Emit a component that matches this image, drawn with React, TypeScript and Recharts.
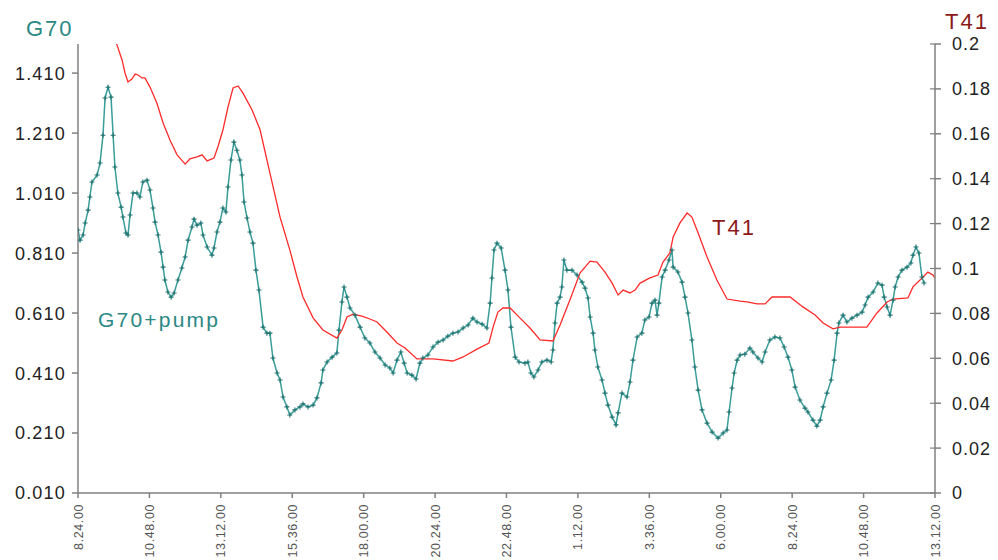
import React from "react";
import { LineChart, Line, XAxis, YAxis } from "recharts";

// hours after 8:24 on the first day
const xTickHours = [0, 2.4, 4.8, 7.2, 9.6, 12, 14.4, 16.8, 19.2, 21.6, 24, 26.4, 28.8];
const xTickLabels = [
  "8.24.00", "10.48.00", "13.12.00", "15.36.00", "18.00.00", "20.24.00", "22.48.00",
  "1.12.00", "3.36.00", "6.00.00", "8.24.00", "10.48.00", "13.12.00",
];
const leftTicks = [0.01, 0.21, 0.41, 0.61, 0.81, 1.01, 1.21, 1.41];
const leftTickLabels = ["0.010", "0.210", "0.410", "0.610", "0.810", "1.010", "1.210", "1.410"];
const rightTicks = [0, 0.02, 0.04, 0.06, 0.08, 0.1, 0.12, 0.14, 0.16, 0.18, 0.2];
const rightTickLabels = ["0", "0.02", "0.04", "0.06", "0.08", "0.1", "0.12", "0.14", "0.16", "0.18", "0.2"];

const g70Hours = [
  0.0, 0.07, 0.17, 0.24, 0.34, 0.4, 0.47, 0.64, 0.74, 0.84, 0.91, 1.01, 1.11, 1.18, 1.24, 1.34,
  1.45, 1.51, 1.61, 1.68, 1.75, 1.85, 1.98, 2.08, 2.18, 2.32, 2.42, 2.52, 2.59, 2.69, 2.79, 2.86,
  2.92, 3.02, 3.13, 3.23, 3.36, 3.49, 3.6, 3.7, 3.83, 3.9, 4.0, 4.13, 4.2, 4.34, 4.5, 4.57,
  4.67, 4.77, 4.87, 4.97, 5.04, 5.14, 5.24, 5.34, 5.44, 5.51, 5.58, 5.68, 5.78, 5.88, 5.98, 6.08,
  6.22, 6.35, 6.45, 6.55, 6.69, 6.79, 6.89, 7.02, 7.12, 7.29, 7.46, 7.56, 7.73, 7.9, 8.03, 8.17,
  8.23, 8.37, 8.54, 8.7, 8.77, 8.87, 8.94, 9.04, 9.14, 9.31, 9.48, 9.64, 9.81, 9.98, 10.15, 10.32,
  10.48, 10.59, 10.72, 10.85, 10.96, 11.06, 11.22, 11.36, 11.49, 11.59, 11.76, 11.93, 12.1, 12.27, 12.43, 12.6,
  12.77, 12.94, 13.11, 13.27, 13.41, 13.58, 13.74, 13.85, 13.91, 13.98, 14.08, 14.22, 14.35, 14.45, 14.55, 14.69,
  14.82, 15.02, 15.12, 15.22, 15.32, 15.46, 15.59, 15.76, 15.9, 15.96, 16.03, 16.1, 16.2, 16.26, 16.33, 16.43,
  16.6, 16.77, 16.94, 17.04, 17.14, 17.21, 17.31, 17.37, 17.47, 17.61, 17.71, 17.81, 17.95, 18.08, 18.15, 18.28,
  18.45, 18.55, 18.65, 18.79, 18.95, 19.05, 19.19, 19.29, 19.39, 19.46, 19.52, 19.63, 19.73, 19.86, 19.96, 20.0,
  20.16, 20.3, 20.4, 20.5, 20.63, 20.73, 20.84, 20.97, 21.14, 21.31, 21.51, 21.68, 21.81, 21.88, 21.98, 22.05,
  22.15, 22.25, 22.41, 22.58, 22.68, 22.85, 22.99, 23.09, 23.25, 23.42, 23.59, 23.73, 23.86, 23.99, 24.1, 24.26,
  24.43, 24.53, 24.7, 24.83, 24.94, 25.04, 25.17, 25.31, 25.41, 25.51, 25.57, 25.71, 25.84, 26.01, 26.18, 26.35,
  26.45, 26.55, 26.72, 26.88, 27.02, 27.09, 27.19, 27.29, 27.39, 27.46, 27.56, 27.69, 27.86, 27.99, 28.06, 28.16,
  28.26, 28.36, 28.43,
];
const g70Values = [
  0.887, 0.853, 0.87, 0.91, 0.953, 0.997, 1.047, 1.07, 1.11, 1.203, 1.327, 1.363, 1.33, 1.203, 1.097, 1.01,
  0.963, 0.93, 0.877, 0.87, 0.937, 1.01, 1.01, 0.997, 1.047, 1.053, 1.02, 0.96, 0.913, 0.87, 0.813, 0.763,
  0.72, 0.68, 0.663, 0.677, 0.72, 0.76, 0.797, 0.853, 0.897, 0.923, 0.903, 0.91, 0.87, 0.83, 0.803, 0.827,
  0.88, 0.913, 0.96, 0.947, 1.03, 1.12, 1.18, 1.153, 1.12, 1.07, 0.98, 0.927, 0.88, 0.843, 0.753, 0.687,
  0.563, 0.543, 0.543, 0.46, 0.41, 0.387, 0.33, 0.297, 0.27, 0.287, 0.297, 0.307, 0.297, 0.303, 0.327, 0.377,
  0.42, 0.447, 0.463, 0.477, 0.553, 0.647, 0.697, 0.663, 0.627, 0.603, 0.563, 0.527, 0.51, 0.48, 0.46, 0.437,
  0.427, 0.41, 0.453, 0.48, 0.443, 0.41, 0.403, 0.39, 0.443, 0.46, 0.47, 0.497, 0.513, 0.52, 0.533, 0.543,
  0.547, 0.56, 0.57, 0.593, 0.58, 0.573, 0.56, 0.643, 0.727, 0.82, 0.843, 0.827, 0.753, 0.687, 0.563, 0.463,
  0.447, 0.443, 0.447, 0.41, 0.397, 0.42, 0.447, 0.453, 0.447, 0.487, 0.577, 0.643, 0.663, 0.697, 0.787, 0.753,
  0.753, 0.737, 0.713, 0.693, 0.66, 0.597, 0.543, 0.487, 0.43, 0.387, 0.343, 0.303, 0.263, 0.237, 0.277, 0.343,
  0.33, 0.38, 0.453, 0.53, 0.543, 0.587, 0.597, 0.643, 0.653, 0.603, 0.643, 0.73, 0.753, 0.787, 0.82, 0.763,
  0.747, 0.713, 0.663, 0.61, 0.52, 0.43, 0.353, 0.287, 0.243, 0.213, 0.193, 0.21, 0.22, 0.28, 0.36, 0.41,
  0.453, 0.47, 0.473, 0.493, 0.48, 0.46, 0.447, 0.48, 0.52, 0.53, 0.527, 0.497, 0.463, 0.42, 0.363, 0.32,
  0.293, 0.28, 0.253, 0.233, 0.253, 0.297, 0.343, 0.387, 0.453, 0.543, 0.577, 0.603, 0.58, 0.593, 0.603, 0.613,
  0.637, 0.663, 0.68, 0.71, 0.703, 0.663, 0.63, 0.603, 0.653, 0.697, 0.73, 0.753, 0.763, 0.777, 0.803, 0.83,
  0.81, 0.73, 0.71,
];

const t41Hours = [
  1.18, 1.31, 1.48, 1.58, 1.68, 1.81, 1.92, 2.02, 2.15, 2.25, 2.42, 2.65, 2.86, 3.09, 3.33, 3.6,
  3.76, 4.0, 4.17, 4.34, 4.57, 4.7, 4.87, 5.04, 5.21, 5.38, 5.54, 5.85, 6.12, 6.45, 6.79, 7.12,
  7.36, 7.56, 7.9, 8.23, 8.7, 8.87, 9.04, 9.24, 9.54, 9.81, 10.05, 10.38, 10.72, 10.99, 11.39, 11.93,
  12.6, 12.94, 13.41, 13.81, 13.95, 14.11, 14.28, 14.52, 14.85, 15.19, 15.53, 15.96, 16.2, 16.53, 16.87, 17.21,
  17.44, 17.71, 17.95, 18.15, 18.32, 18.55, 18.72, 18.89, 19.22, 19.49, 19.66, 19.89, 20.0, 20.23, 20.47, 20.63,
  20.84, 21.14, 21.47, 21.81, 22.25, 22.48, 22.82, 23.09, 23.32, 23.93, 24.36, 24.77, 25.04, 25.37, 25.61, 26.51,
  26.85, 27.19, 27.39, 27.89, 28.06, 28.4, 28.56, 28.73, 28.8,
];
const t41Values = [
  0.204, 0.1996, 0.1929, 0.1871, 0.1831, 0.1844, 0.1866, 0.1862, 0.1849, 0.1849, 0.1808, 0.1737, 0.1648, 0.1572, 0.1506, 0.1465,
  0.1488, 0.1497, 0.1506, 0.1479, 0.1492, 0.1541, 0.1617, 0.1719, 0.1804, 0.1813, 0.1782, 0.1706, 0.1617, 0.1425, 0.1229, 0.1082,
  0.0962, 0.0873, 0.078, 0.0726, 0.069, 0.0726, 0.0784, 0.0797, 0.0788, 0.0775, 0.0762, 0.0717, 0.0668, 0.0646, 0.0597, 0.0597,
  0.0588, 0.0606, 0.0641, 0.0668, 0.0739, 0.0806, 0.0824, 0.0824, 0.078, 0.0735, 0.0682, 0.0677, 0.0748, 0.086, 0.098, 0.1033,
  0.1029, 0.0984, 0.0935, 0.0882, 0.0904, 0.0891, 0.0904, 0.0935, 0.0958, 0.0971, 0.1029, 0.1069, 0.114, 0.1203, 0.1247, 0.1229,
  0.1158, 0.1051, 0.0949, 0.0864, 0.0855, 0.0851, 0.0842, 0.0842, 0.0873, 0.0873, 0.0829, 0.0793, 0.0757, 0.0731, 0.0739, 0.0739,
  0.0802, 0.0851, 0.0864, 0.0869, 0.0918, 0.0962, 0.0984, 0.0971, 0.0958,
];

const g70Data = g70Hours.map((h, i) => ({ h, g70: g70Values[i] }));
const t41Data = t41Hours.map((h, i) => ({ h, t41: t41Values[i] }));

const FONT = "'Liberation Sans', Arial, sans-serif";
const TEAL = "#3a9d99";
const TEAL_DARK = "#1d726f";
const RED = "#ff2a2a";

const PlusDot = (props: any) => {
  const { cx, cy, index } = props;
  if (cx == null || cy == null) return null;
  return (
    <path
      key={`p-${index}`}
      d={`M${cx - 2.5},${cy}h5M${cx},${cy - 2.5}v5`}
      stroke={TEAL_DARK}
      strokeWidth={1.1}
      fill="none"
    />
  );
};

const XTick = (props: any) => {
  const { x, y, payload } = props;
  const i = xTickHours.indexOf(payload.value);
  return (
    <g transform={`translate(${x},${y})`}>
      <text
        transform="rotate(-90)"
        x={-3}
        y={0}
        dy="0.36em"
        textAnchor="end"
        fontSize={12.5}
        letterSpacing={0.6}
        fontFamily={FONT}
        fill="#555"
      >
        {xTickLabels[i]}
      </text>
    </g>
  );
};

const LeftTick = (props: any) => {
  const { x, y, payload } = props;
  const i = leftTicks.indexOf(payload.value);
  return (
    <g>
      <text x={x} y={y} dy="0.36em" textAnchor="end" fontSize={18} letterSpacing={1.2} fontFamily={FONT} fill="#222">
        {leftTickLabels[i]}
      </text>
    </g>
  );
};

const RightTick = (props: any) => {
  const { x, y, payload } = props;
  const i = rightTicks.indexOf(payload.value);
  // short stub on the inner side so the tick crosses the axis, as in the source
  return (
    <g>
      <line x1={x - 22} x2={x - 16} y1={y} y2={y} stroke="#808080" strokeWidth={1.2} />
      <text x={x} y={y} dy="0.36em" textAnchor="start" fontSize={18} letterSpacing={1} fontFamily={FONT} fill="#222">
        {rightTickLabels[i]}
      </text>
    </g>
  );
};

export default function App() {
  return (
    <div style={{ position: "absolute", left: 0, top: 0, width: 998, height: 560, background: "#fff" }}>
      <LineChart width={998} height={560} margin={{ top: 44, right: 0, bottom: 0, left: 0 }}>
        <XAxis
          xAxisId="main"
          dataKey="h"
          type="number"
          domain={[0, 28.8]}
          ticks={xTickHours}
          allowDataOverflow
          height={67}
          tick={<XTick />}
          tickSize={5}
          tickMargin={3}
          interval={0}
          stroke="#808080"
          strokeWidth={1.5}
        />
        <XAxis
          xAxisId="top"
          orientation="top"
          dataKey="h"
          type="number"
          domain={[0, 28.8]}
          height={0}
          tick={false}
          tickLine={false}
          stroke="#c0c0c0"
        />
        <YAxis
          yAxisId="left"
          orientation="left"
          width={78}
          domain={[0.01, 1.507]}
          ticks={leftTicks}
          allowDataOverflow
          interval={0}
          tick={<LeftTick />}
          tickSize={6}
          tickMargin={6}
          stroke="#808080"
          strokeWidth={1.5}
        />
        <YAxis
          yAxisId="right"
          orientation="right"
          width={63}
          domain={[0, 0.2]}
          ticks={rightTicks}
          allowDataOverflow
          interval={0}
          tick={<RightTick />}
          tickSize={6}
          tickMargin={11}
          stroke="#808080"
          strokeWidth={1.5}
        />
        <Line
          data={g70Data}
          xAxisId="main"
          yAxisId="left"
          dataKey="g70"
          type="linear"
          stroke={TEAL}
          strokeWidth={1.5}
          dot={PlusDot}
          activeDot={false}
          isAnimationActive={false}
        />
        <Line
          data={t41Data}
          xAxisId="main"
          yAxisId="right"
          dataKey="t41"
          type="linear"
          stroke={RED}
          strokeWidth={1.3}
          dot={false}
          activeDot={false}
          isAnimationActive={false}
        />
      </LineChart>
      <svg width={998} height={560} style={{ position: "absolute", left: 0, top: 0, pointerEvents: "none" }}>
        <text x={26} y={36} fontSize={22} letterSpacing={2} fontFamily={FONT} fill="#2b8884">
          G70
        </text>
        <text x={945} y={29} fontSize={22} letterSpacing={2} fontFamily={FONT} fill="#8b1a1a">
          T41
        </text>
        <text x={98} y={327} fontSize={21} letterSpacing={2.2} fontFamily={FONT} fill="#2b8884">
          G70+pump
        </text>
        <text x={712} y={235} fontSize={22} letterSpacing={2} fontFamily={FONT} fill="#8b1a1a">
          T41
        </text>
      </svg>
    </div>
  );
}
